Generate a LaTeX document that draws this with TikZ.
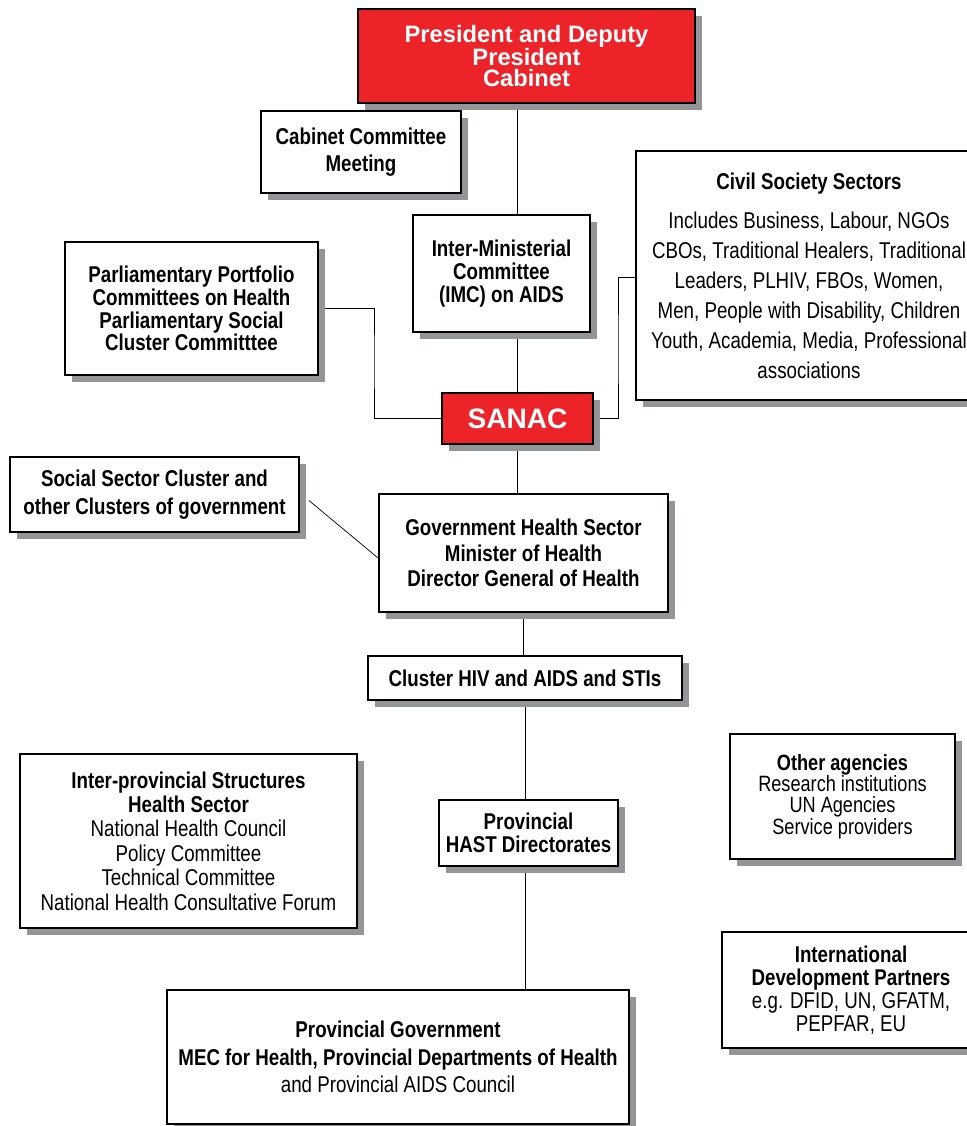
\documentclass[tikz,border=0pt]{standalone}
\usepackage{fontspec}
\setmainfont{Liberation Sans}[FakeStretch=0.82]
\newfontfamily\widefont{Liberation Sans}
\usetikzlibrary{shadows,backgrounds,calc}

\definecolor{sanacred}{RGB}{236,35,41}
\definecolor{shadegray}{RGB}{147,149,152}

\begin{document}
\begin{tikzpicture}[x=0.02cm,y=-0.02cm,
  box/.style 2 args={draw,line width=1.1pt,fill=white,align=center,inner sep=0pt,
    minimum width=#1*0.02cm,minimum height=#2*0.02cm,
    drop shadow={shadow xshift=0.14cm,shadow yshift=-0.14cm,fill=shadegray,opacity=1}},
  redbox/.style={fill=sanacred,text=white},
  lead/.style={font=\fontsize{13}{#1}\selectfont\bfseries}]
  \useasboundingbox (0,0) rectangle (967,1126);

  \node[box={337}{94},redbox,font=\widefont\bfseries\fontsize{13.5}{12}\selectfont] (pres) at (526.5,56) {President and Deputy\\President\\Cabinet};
  \node[box={200}{82},lead=15.3] (cabinet) at (361,152) {Cabinet Committee\\Meeting};
  \node[box={177}{117},lead=13] (imc) at (501.5,273.5) {Inter-Ministerial\\Committee\\(IMC) on AIDS};
  \node[box={346}{249},lead=17] (civil) at (809,275.5) {Civil Society Sectors\\[5.7pt]
    \textmd{Includes Business, Labour, NGOs}\\
    \textmd{CBOs, Traditional Healers, Traditional}\\
    \textmd{Leaders, PLHIV, FBOs, Women,}\\
    \textmd{Men, People with Disability, Children}\\
    \textmd{Youth, Academia, Media, Professional}\\
    \textmd{associations}};
  \node[box={253}{133},lead=13] (parl) at (191.5,308.5) {Parliamentary Portfolio\\Committees on Health\\Parliamentary Social\\Cluster Committtee};
  \node[box={151}{51},redbox,font=\widefont\bfseries\fontsize{16}{16}\selectfont] (sanac) at (517.5,418.5) {SANAC};
  \node[box={289}{75},lead=15.9] (social) at (154.5,494.5) {Social Sector Cluster and\\other Clusters of government};
  \node[box={289}{118},lead=14.7] (gov) at (523.5,553) {Government Health Sector\\Minister of Health\\Director General of Health};
  \node[box={314}{44},lead=13] (cluster) at (525,678) {Cluster HIV and AIDS and STIs};
  \node[box={337}{174},lead=13.9] (interprov) at (188.5,841) {Inter-provincial Structures\\Health Sector\\
    \textmd{National Health Council}\\\textmd{Policy Committee}\\
    \textmd{Technical Committee}\\\textmd{National Health Consultative Forum}};
  \node[box={179}{66},lead=13] (hast) at (528.5,833) {Provincial\\HAST Directorates};
  \node[box={225}{125},font=\fontsize{12.6}{12.2}\selectfont\bfseries] (other) at (842.5,796.5) {Other agencies\\\textmd{Research institutions}\\
    \textmd{UN Agencies}\\\textmd{Service providers}};
  \node[box={258}{116},lead=13] (intl) at (851,990) {International\\Development Partners\\
    \textmd{e.g. DFID, UN, GFATM,}\\\textmd{PEPFAR, EU}};
  \node[box={462}{134},lead=15.6] (provgov) at (398,1057) {Provincial Government\\
    MEC for Health, Provincial Departments of Health\\\textmd{and Provincial AIDS Council}};

  \begin{scope}[on background layer,line width=0.6pt]
    \coordinate (pj) at (374,360);
    \coordinate (cj) at (618,350);
    \draw (pres.south -| sanac.north) -- (imc.north -| sanac.north);
    \draw (imc.south -| sanac.north) -- (sanac.north);
    \draw (parl.east) -| (pj) |- (sanac.west);
    \draw (sanac.east) -| (cj) |- ($(civil.west)+(0,2)$);
    \draw (sanac.south) -- (sanac.south |- gov.north);
    \draw ($(social.east)+(9,6)$) -- ($(gov.west)+(0,5)$);
    \draw (gov.south) -- (gov.south |- cluster.north);
    \draw (cluster.south) -- (cluster.south |- hast.north);
    \draw (hast.south -| cluster.south) -- (cluster.south |- provgov.north);
  \end{scope}
\end{tikzpicture}
\end{document}
